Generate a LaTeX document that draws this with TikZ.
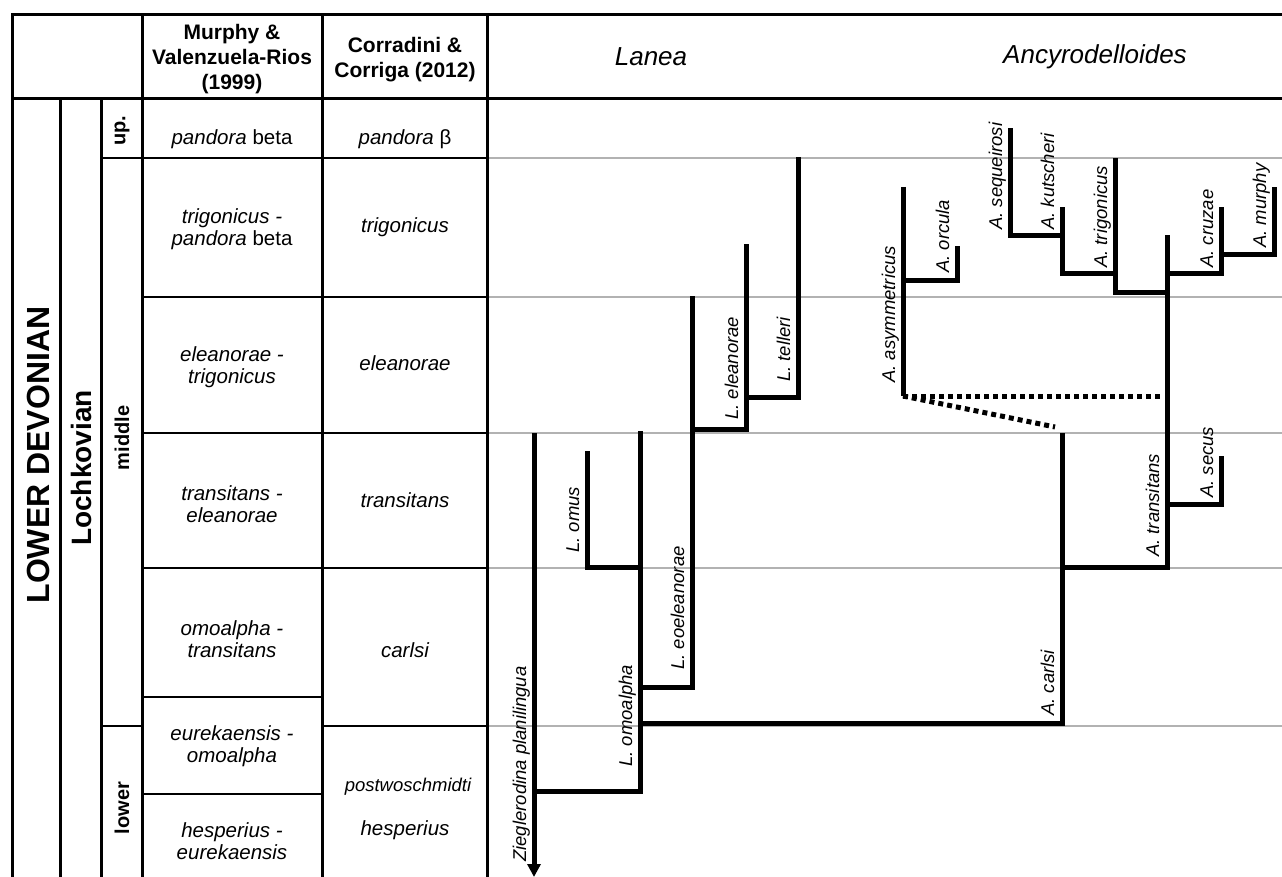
\documentclass[tikz,border=0pt]{standalone}
\usepackage{fontspec}
\setmainfont{Liberation Sans}
\usetikzlibrary{arrows.meta}
\tikzset{
  frameline/.style={line width=3pt, black},
  rowline/.style={line width=2pt, black},
  gridline/.style={line width=2pt, black!30},
  branch/.style={line width=5pt, line join=miter, line cap=butt},
  dotbranch/.style={line width=5pt, dash pattern=on 5pt off 4pt},
  taxon/.style={rotate=90, anchor=base west, inner sep=0pt, font=\fontsize{18.5}{20}\selectfont\itshape},
  zone/.style={align=center, inner sep=0pt, font=\fontsize{20.5}{22}\selectfont\itshape},
  head/.style={align=center, inner sep=0pt, font=\fontsize{21}{25}\selectfont\bfseries},
  genus/.style={inner sep=0pt, font=\fontsize{26}{30}\selectfont\itshape},
  strat/.style={rotate=90, inner sep=0pt, font=\bfseries},
}
\begin{document}
\begin{tikzpicture}[x=1pt,y=-1pt]
\useasboundingbox (0,0) rectangle (1282,877);
% grey level lines
\foreach \yy in {158,297,433,568,726} \draw[gridline] (487,\yy) -- (1282,\yy);
% table frame
\draw[frameline] (12,877) -- (12,15) -- (1282,15);
\draw[frameline] (12,99) -- (1282,99);
\draw[frameline] (60,99) -- (60,877);
\draw[frameline] (101,99) -- (101,877);
\foreach \xx in {142,322,487} \draw[frameline] (\xx,15) -- (\xx,877);
\foreach \yy in {158,297,433,568,697,794} \draw[rowline] (142,\yy) -- (322,\yy);
\foreach \yy in {158,297,433,568,726} \draw[rowline] (322,\yy) -- (487,\yy);
\foreach \yy in {158,726} \draw[rowline] (101,\yy) -- (142,\yy);

% header
\node[head] (hMur) at (232,59) {Murphy \&\\Valenzuela-Rios\\(1999)};
\node[head] (hCor) at (405,60) {Corradini \&\\Corriga (2012)};
\node[genus] (hLan) at (651,57) {Lanea};
\node[genus] (hAnc) at (1095,57) {Ancyrodelloides};

% stratigraphy
\node[strat, font=\fontsize{32}{34}\selectfont\bfseries] (sDev) at (38,455) {LOWER DEVONIAN};
\node[strat, font=\fontsize{28}{30}\selectfont\bfseries] (sLoc) at (81,468) {Lochkovian};
\node[strat, font=\fontsize{20}{22}\selectfont\bfseries] (sUp) at (122,131) {up.};
\node[strat, font=\fontsize{20}{22}\selectfont\bfseries] (sMid) at (122,438) {middle};
\node[strat, font=\fontsize{20}{22}\selectfont\bfseries] (sLow) at (122,808) {lower};

% Murphy & Valenzuela-Rios zones
\node[zone] (m1) at (232,139) {pandora \textup{beta}};
\node[zone] (m2) at (232,229) {trigonicus -\\pandora \textup{beta}};
\node[zone] (m3) at (232,367) {eleanorae -\\trigonicus};
\node[zone] (m4) at (232,504) {transitans -\\eleanorae};
\node[zone] (m5) at (232,639) {omoalpha -\\transitans};
\node[zone] (m6) at (232,746) {eurekaensis -\\omoalpha};
\node[zone] (m7) at (232,841) {hesperius -\\eurekaensis};
% Corradini & Corriga zones
\node[zone] (c1) at (405,139) {pandora \textup{β}};
\node[zone] (c2) at (405,227) {trigonicus};
\node[zone] (c3) at (405,363) {eleanorae};
\node[zone] (c4) at (405,500) {transitans};
\node[zone] (c5) at (405,650) {carlsi};
\node[zone, font=\fontsize{18.5}{20}\selectfont\itshape] (c6) at (408,787) {postwoschmidti};
\node[zone] (c7) at (405,830) {hesperius};

% tree coordinates
\coordinate (zTop) at (534,433);
\coordinate (zBot) at (534,877);
\coordinate (zJ) at (534,791);
\coordinate (omC) at (640,791);
\coordinate (omTop) at (640,431);
\coordinate (omusJ) at (640,567);
\coordinate (omusC) at (587,567);
\coordinate (omusTop) at (587,451);
\coordinate (eoJ) at (640,687);
\coordinate (eoC) at (692,687);
\coordinate (eoTop) at (692,296);
\coordinate (elJ) at (692,429);
\coordinate (elC) at (746,429);
\coordinate (elTop) at (746,244);
\coordinate (teJ) at (746,397);
\coordinate (teC) at (798,397);
\coordinate (teTop) at (798,157);
\coordinate (caJ) at (640,723);
\coordinate (caC) at (1062,723);
\coordinate (caTop) at (1062,433);
\coordinate (trJ) at (1062,567);
\coordinate (trC) at (1167,567);
\coordinate (trTop) at (1167,235);
\coordinate (seJ) at (1167,504);
\coordinate (seC) at (1221,504);
\coordinate (seTop) at (1221,456);
\coordinate (crJ) at (1167,274);
\coordinate (crC) at (1221,274);
\coordinate (crTop) at (1221,207);
\coordinate (muJ) at (1221,255);
\coordinate (muC) at (1274,255);
\coordinate (muTop) at (1274,187);
\coordinate (tgJ) at (1167,293);
\coordinate (tgC) at (1115,293);
\coordinate (tgTop) at (1115,158);
\coordinate (kuJ) at (1115,274);
\coordinate (kuC) at (1062,274);
\coordinate (kuTop) at (1062,207);
\coordinate (sqJ) at (1062,236);
\coordinate (sqC) at (1010,236);
\coordinate (sqTop) at (1010,128);
\coordinate (asTop) at (903,187);
\coordinate (asBot) at (903,396);
\coordinate (orJ) at (903,281);
\coordinate (orC) at (957,281);
\coordinate (orTop) at (957,246);
\coordinate (dotH) at (1160,396);
\coordinate (dotD) at (1055,427);

% branches
\draw[branch, -{Triangle[width=13pt,length=13pt]}] (zTop) -- (zBot);
\draw[branch] (zJ) -- (omC) -- (omTop);
\draw[branch] (omusJ) -- (omusC) -- (omusTop);
\draw[branch] (eoJ) -- (eoC) -- (eoTop);
\draw[branch] (elJ) -- (elC) -- (elTop);
\draw[branch] (teJ) -- (teC) -- (teTop);
\draw[branch] (caJ) -- (caC) -- (caTop);
\draw[branch] (trJ) -- (trC) -- (trTop);
\draw[branch] (seJ) -- (seC) -- (seTop);
\draw[branch] (crJ) -- (crC) -- (crTop);
\draw[branch] (muJ) -- (muC) -- (muTop);
\draw[branch] (tgJ) -- (tgC) -- (tgTop);
\draw[branch] (kuJ) -- (kuC) -- (kuTop);
\draw[branch] (sqJ) -- (sqC) -- (sqTop);
\draw[branch] (asTop) -- (asBot);
\draw[branch] (orJ) -- (orC) -- (orTop);
\draw[dotbranch] (asBot) -- (dotH);
\draw[dotbranch] (asBot) -- (dotD);

% taxon labels
\node[taxon] (tZie) at (526,862) {Zieglerodina planilingua};
\node[taxon] (tOmo) at (632,767) {L. omoalpha};
\node[taxon] (tOmu) at (579,553) {L. omus};
\node[taxon] (tEoe) at (684,670) {L. eoeleanorae};
\node[taxon] (tEle) at (738,420) {L. eleanorae};
\node[taxon] (tTel) at (790,382) {L. telleri};
\node[taxon] (tAsy) at (895,383) {A. asymmetricus};
\node[taxon] (tOrc) at (949,273) {A. orcula};
\node[taxon] (tSeq) at (1002,230) {A. sequeirosi};
\node[taxon] (tKut) at (1054,230) {A. kutscheri};
\node[taxon] (tTri) at (1107,268) {A. trigonicus};
\node[taxon] (tCru) at (1213,268) {A. cruzae};
\node[taxon] (tMur) at (1266,248) {A. murphy};
\node[taxon] (tTra) at (1159,557) {A. transitans};
\node[taxon] (tSec) at (1213,498) {A. secus};
\node[taxon] (tCar) at (1054,716) {A. carlsi};
\end{tikzpicture}
\end{document}
